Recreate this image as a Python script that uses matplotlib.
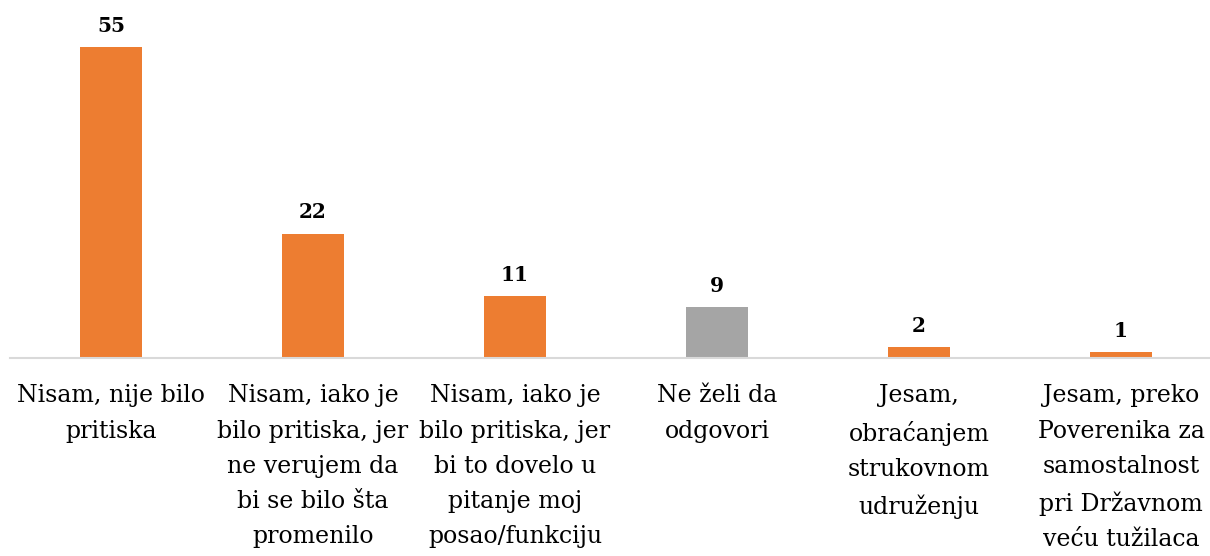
import numpy as np
import matplotlib.pyplot as plt

categories = [
    "Nisam, nije bilo\npritiska",
    "Nisam, iako je\nbilo pritiska, jer\nne verujem da\nbi se bilo šta\npromenilo",
    "Nisam, iako je\nbilo pritiska, jer\nbi to dovelo u\npitanje moj\nposao/funkciju",
    "Ne želi da\nodgovori",
    "Jesam,\nobraćanjem\nstrukovnom\nudruženju",
    "Jesam, preko\nPoverenika za\nsamostalnost\npri Državnom\nveću tužilaca",
]
values = [55, 22, 11, 9, 2, 1]
colors = ["#ED7D31", "#ED7D31", "#ED7D31", "#A5A5A5", "#ED7D31", "#ED7D31"]

plt.rcParams['font.family'] = ['DejaVu Serif']

fig = plt.figure(figsize=(12.1, 5.56), dpi=100)
ax = fig.add_axes([10/1210, 1 - 358/556, 1212/1210, 358/556])

x = np.arange(len(values))
bars = ax.bar(x, values, width=0.31, color=colors, zorder=2)
for xi, v in zip(x, values):
    ax.annotate(str(v), (xi, v), xytext=(0, 8), textcoords="offset points",
                ha="center", va="bottom", fontsize=14.5, fontweight="bold")

ax.set_xlim(-0.5, 5.5)
ax.set_ylim(0, 55 * 358 / 311)
ax.set_xticks(x)
ax.set_xticklabels(categories, fontsize=17, linespacing=1.68)
ax.tick_params(axis="x", length=0, pad=19)
ax.set_yticks([])
for s in ["top", "right", "left"]:
    ax.spines[s].set_visible(False)
ax.spines["bottom"].set_color("#D9D9D9")
ax.spines["bottom"].set_linewidth(1.5)

fig.savefig("out.png", dpi=100)
